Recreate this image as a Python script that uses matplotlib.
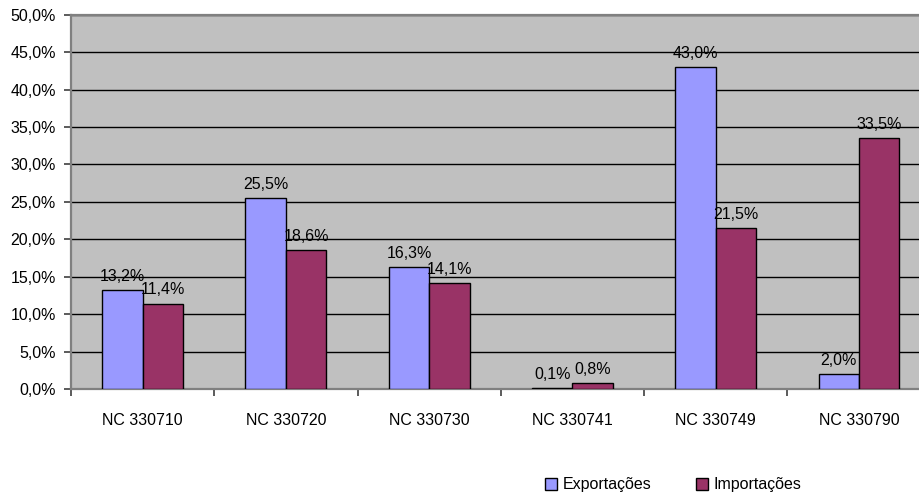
import numpy as np
import matplotlib.pyplot as plt

categorias = ['NC 330710', 'NC 330720', 'NC 330730', 'NC 330741', 'NC 330749', 'NC 330790']
exportacoes = [13.2, 25.5, 16.3, 0.1, 43.0, 2.0]
importacoes = [11.4, 18.6, 14.1, 0.8, 21.5, 33.5]
y_ticks = np.arange(0, 55, 5)

plt.rcParams['font.family'] = ['Liberation Sans', 'DejaVu Sans']
plt.rcParams['font.size'] = 11.5

fig = plt.figure(figsize=(9.2, 5), dpi=100)
ax = fig.add_axes([71 / 920, 1 - 389 / 500, (930.6 - 71) / 920, (389 - 14.7) / 500])
ax.set_facecolor('#C0C0C0')

x = np.arange(len(categorias))
w = 0.282
b1 = ax.bar(x - w / 2, exportacoes, w, color='#9999FF', edgecolor='black', linewidth=1, label='Exportações', zorder=3)
b2 = ax.bar(x + w / 2, importacoes, w, color='#993366', edgecolor='black', linewidth=1, label='Importações', zorder=3)

# rótulos de dados acima das barras
for bars in (b1, b2):
    for bar in bars:
        h = bar.get_height()
        ax.annotate(f'{h:.1f}%'.replace('.', ','),
                    (bar.get_x() + bar.get_width() / 2, h),
                    xytext=(0, 4.5), textcoords='offset points',
                    ha='center', va='bottom', zorder=4)

ax.set_ylim(0, 50)
ax.set_xlim(-0.5, len(categorias) - 0.5)
ax.set_yticks(y_ticks)
ax.set_yticklabels([f'{v:.1f}%'.replace('.', ',') for v in y_ticks])
ax.yaxis.grid(True, color='black', linewidth=1)
ax.set_axisbelow(True)

ax.set_xticks(x)
ax.set_xticklabels(categorias)
ax.set_xticks(np.arange(len(categorias) + 1) - 0.5, minor=True)
ax.tick_params(axis='x', which='major', length=0, pad=17)
ax.tick_params(axis='x', which='minor', length=5, width=1.2, color='#404040')
ax.tick_params(axis='y', length=5, width=1.2, color='#404040', pad=6)

for s in ['left', 'top', 'bottom']:
    ax.spines[s].set_color('#808080')
    ax.spines[s].set_linewidth(1.6)
ax.spines['right'].set_visible(False)

fig.legend(loc='center', bbox_to_anchor=(673 / 920, 1 - 485 / 500), ncol=2, frameon=False,
           handlelength=0.75, handleheight=0.75, handletextpad=0.35, columnspacing=2.8,
           borderaxespad=0)

fig.savefig('out.png', dpi=100)
